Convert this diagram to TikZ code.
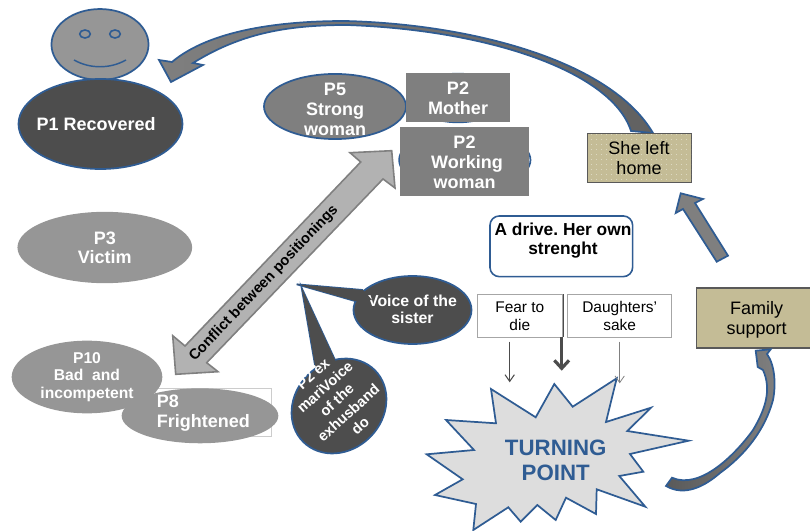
\documentclass[tikz,border=0pt]{standalone}
\usepackage{fontspec}
\setmainfont{Liberation Sans}
\usetikzlibrary{shapes.geometric,arrows.meta,patterns.meta}
\definecolor{edgeblue}{HTML}{2F5C93}
\definecolor{darkfill}{HTML}{4D4D4D}
\definecolor{midfill}{HTML}{7F7F7F}
\definecolor{lightfill}{HTML}{969696}
\definecolor{khaki}{HTML}{C4BC96}
\definecolor{burst}{HTML}{DDDDDD}
\tikzset{
  ell/.style={ellipse,inner sep=-14pt,align=center,text=white,font=\bfseries\fontsize{13.5}{15}\selectfont},
  blue line/.style={draw=edgeblue,line width=1.3pt},
  plainbox/.style={rectangle,inner sep=0pt,align=center},
  lab/.style={plainbox,text=white,font=\bfseries\fontsize{13.5}{15}\selectfont},
  whitebox/.style={plainbox,fill=white,draw=black!35,line width=.6pt},
  flat/.style={plainbox,fill=midfill},
  tan/.style={plainbox,fill=khaki,draw=black!65,font=\fontsize{13.5}{15}\selectfont},
  small/.style={plainbox,font=\fontsize{11.6}{13.5}\selectfont},
}
\begin{document}
\frenchspacing
\begin{tikzpicture}[x=.75pt,y=-.75pt]
\useasboundingbox (0,0) rectangle (810,531);
\clip (0,0) rectangle (810,531);
% figure
\node[ell,blue line,fill=lightfill,minimum width=72.8pt,minimum height=53.2pt] (face) at (100,44.5) {};
\node[ellipse,draw=edgeblue,line width=1.2pt,minimum width=8pt,minimum height=6pt,inner sep=0pt] (eyeL) at (85,34) {};
\node[ellipse,draw=edgeblue,line width=1.2pt,minimum width=8pt,minimum height=6pt,inner sep=0pt] (eyeR) at (115,34) {};
\coordinate (smileL) at (74,60);
\coordinate (smileR) at (126,60);
\draw[edgeblue,line width=1.1pt] (smileL) .. controls (90,69) and (110,69) .. (smileR);
\node[ell,blue line,fill=darkfill,minimum width=123pt,minimum height=67.5pt] (p1) at (100.5,124) {P1 Recovered\hspace*{6.5pt}};
% top curved arrow
\draw[blue line,left color=midfill,right color=black!62,line join=miter]
  (159,60) -- (172,62) .. controls (210,30) and (280,21) .. (345,21)
  .. controls (470,24) and (610,60) .. (653,133) -- (631,131)
  .. controls (612,72) and (490,30) .. (347,25)
  .. controls (285,25) and (240,34) .. (193,63) -- (203,65) -- (171,82) -- cycle;
% P5, P2
\node[ell,blue line,fill=midfill,minimum width=106.5pt,minimum height=48.8pt] (p5) at (335,106.5) {};
\node[lab] (p5t) at (335,109.5) {P5\\Strong\\woman};
\node[ellipse,blue line,minimum width=70pt,minimum height=36.5pt,inner sep=0pt] (p2mBack) at (458,98) {};
\node[flat,minimum width=78pt,minimum height=36.75pt] (p2m) at (458,97.5) {};
\node[lab] (p2mt) at (458,98.5) {P2\\Mother};
\node[ellipse,blue line,minimum width=98.5pt,minimum height=45pt,inner sep=0pt] (p2wBack) at (464.8,160) {};
\node[flat,minimum width=96.75pt,minimum height=51.5pt] (p2w) at (464.5,161.3) {};
\node[lab] (p2wt) at (464.5,162.8) {P2\\\hspace*{3.75pt}Working\\woman};
% she left home
\node[tan,minimum width=78pt,minimum height=36.75pt,postaction={pattern={Dots[radius=.3pt,distance=4pt]},pattern color=white!85!khaki}] (home) at (639,157.5) {};
\node[plainbox,font=\fontsize{13.5}{15}\selectfont] (homet) at (639,158.5) {She left\\home};
% conflict arrow
\draw[draw=black!50,fill=black!30,line width=1.2pt,line join=miter]
  (391.7,150.7) -- (395,188) -- (383,179) -- (206.7,362.7) -- (218,371.7) -- (175.7,374.3)
  -- (172.7,335.7) -- (185,346) -- (360.7,162) -- (350,152.7) -- cycle;
\node[font=\bfseries\fontsize{11}{13}\selectfont,rotate=46.5,inner sep=0pt] (conflict) at (264,283.5) {Conflict between positionings};
% P3, P10, P8
\node[ell,fill=lightfill,minimum width=131pt,minimum height=53.5pt] (p3) at (104.8,247.5) {P3\\[-1pt]Victim};
\node[plainbox,fill=white,draw=black!20,line width=.6pt,minimum width=87.5pt,minimum height=35.8pt] (p8box) at (213.3,412.2) {};
\node[ell,fill=lightfill,minimum width=113pt,minimum height=54.5pt,font=\bfseries\fontsize{11.75}{13.2}\selectfont] (p10) at (87,377) {P10\\Bad\ \ and\\incompetent};
\node[ell,fill=lightfill,minimum width=117.5pt,minimum height=41.2pt] (p8) at (200,415.8) {};
\node[lab,align=left,anchor=west] (p8t) at (156.7,413.5) {P8\\Frightened};
% speech bubbles
\coordinate (tipS) at (296.7,284.3);
\coordinate (tipH) at (301.7,288);
\node[ell,blue line,fill=darkfill,minimum width=88.5pt,minimum height=51pt] (sister) at (412.5,310) {};
\node[lab,font=\bfseries\fontsize{11.9}{13}\selectfont] (sistert) at (412.5,309) {Voice of the\\sister};
\draw[blue line,fill=darkfill,line join=miter] (355,301) -- (tipS) -- (363,290);
\fill[darkfill] (355,301) -- (tipS) -- (363,290) -- (372,300) -- cycle;
\node[ellipse,blue line,fill=darkfill,minimum width=76pt,minimum height=66pt,inner sep=0pt,rotate=45] (husband) at (339,406) {};
\draw[blue line,fill=darkfill,line join=miter] (315,365) -- (tipH) -- (335,360);
\fill[darkfill] (315,365) -- (tipH) -- (335,360) -- (340,372) -- (322,378) -- cycle;
\node[plainbox,text=white,rotate=42,font=\bfseries\fontsize{11}{13.2}\selectfont] (husbandt) at (336.7,400) {P2 ex\\mariVoice\\of the\\exhusband\\do};
% small boxes
\node[plainbox,draw=edgeblue,line width=1.2pt,rounded corners=7pt,minimum width=107pt,minimum height=45.5pt,fill=white] (drive) at (561.3,246.3) {};
\node[plainbox,font=\bfseries\fontsize{13}{14.3}\selectfont] (drivet) at (563,241) {A drive. Her own\\strenght};
\draw[black!70,line width=1.8pt] (562.3,294) -- (562.3,337);
\node[whitebox,minimum width=63.75pt,minimum height=32.5pt] (fear) at (519.8,315.7) {};
\node[small] (feart) at (519.8,316.5) {Fear to\\die};
\node[whitebox,minimum width=78pt,minimum height=32.5pt] (sake) at (619.7,315.7) {};
\node[small] (saket) at (619.7,316) {Daughters'\\sake};
% burst
\draw[blue line,fill=burst,line join=miter] (491,389) -- (535.7,417.3) -- (554.3,384) -- (572.7,406.7) -- (616.7,378.3) -- (606,422) -- (651,407.7) -- (627.3,431) -- (688.7,440.7) -- (630,454) -- (643.3,471.7) -- (619.3,476) -- (645.3,506.7) -- (596.7,489.3) -- (596,514) -- (566,497.7) -- (555.7,520) -- (537.3,505) -- (520.7,521.7) -- (508.3,507.3) -- (473.3,530) -- (476,504) -- (435,495) -- (462.7,479.3) -- (426.7,454.3) -- (474,450) -- (446,420) -- (496,423.3) -- cycle;
\node[plainbox,text=edgeblue,font=\bfseries\fontsize{16.7}{19}\selectfont] (turn) at (555.7,460) {TURNING\\POINT};
% arrows into burst
\coordinate (a1s) at (509.7,341.7); \coordinate (a1e) at (509.7,382.3);
\coordinate (a2s) at (561.7,337.3); \coordinate (a2e) at (561.7,370.7);
\coordinate (a3s) at (619.7,341.7); \coordinate (a3e) at (619.7,383.3);
\draw[-{Straight Barb[length=5pt,width=7pt]},black!70,line width=.8pt] (a1s) -- (a1e);
\draw[-{Straight Barb[length=6pt,width=11pt]},black!70,line width=2.4pt] (a2s) -- (a2e);
\draw[-{Straight Barb[length=5pt,width=7pt]},black!50,line width=.6pt] (a3s) -- (a3e);
% family support
\node[tan,line width=1.4pt,minimum width=91.5pt,minimum height=44.8pt] (family) at (757.5,318) {};
\node[plainbox,font=\fontsize{13.5}{15}\selectfont] (familyt) at (756.7,319.5) {Family\\support};
% up arrow
\draw[blue line,fill=midfill,line join=miter] (680.7,193.3) -- (703,199) -- (695,203) -- (728,255.7) -- (716.7,261.7) -- (683,209) -- (675.7,213) -- cycle;
% lower curved arrow
\draw[blue line,left color=black!65,right color=midfill,line join=miter] (666,486) -- (672,477.7) .. controls (700,490) and (735,455) .. (753,430)
 .. controls (765,410) and (772,390) .. (763,370) -- (757.7,367) -- (755.7,350.7) -- (770.7,349.3) -- (767,354)
 .. controls (775,365) and (776,385) .. (773,400) .. controls (765,430) and (745,455) .. (720,473)
 .. controls (705,486) and (685,497) .. (666,486) -- cycle;
\end{tikzpicture}
\end{document}
